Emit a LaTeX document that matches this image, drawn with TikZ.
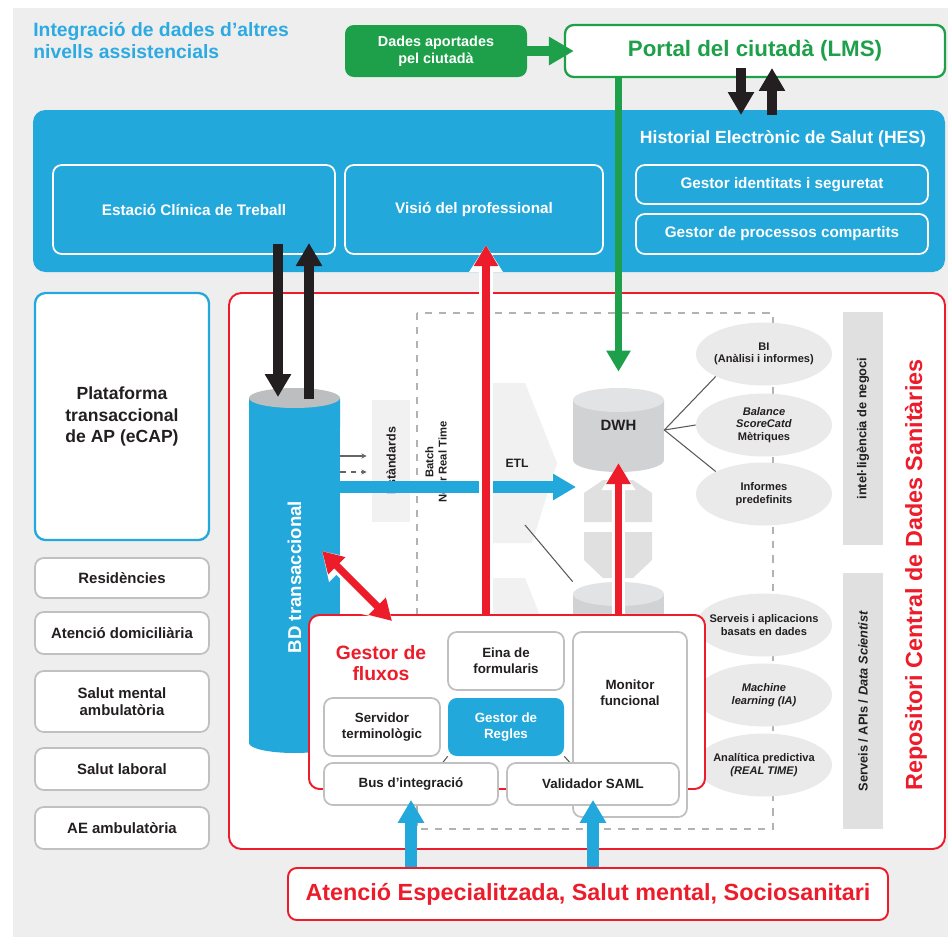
\documentclass[tikz,border=0pt]{standalone}
\usepackage{fontspec}
\setmainfont{Liberation Sans}
\usetikzlibrary{arrows.meta,shapes.geometric,fit}
\newcommand{\titlefont}{\fontsize{11}{12.5}\selectfont\bfseries}
\newcommand{\citfont}{\fontsize{8.2}{9.6}\selectfont\bfseries}
\newcommand{\portalfont}{\fontsize{12.7}{14}\selectfont\bfseries}
\newcommand{\hesfont}{\fontsize{10}{12}\selectfont\bfseries}
\newcommand{\hesboxfont}{\fontsize{8.7}{10}\selectfont\bfseries}
\newcommand{\ecapfont}{\fontsize{10}{12}\selectfont\bfseries}
\newcommand{\leftfont}{\fontsize{8.5}{10}\selectfont\bfseries}
\newcommand{\boxfont}{\fontsize{7.6}{9}\selectfont\bfseries}
\newcommand{\ellfont}{\fontsize{6.3}{7.2}\selectfont\bfseries}
\newcommand{\barfont}{\fontsize{7.3}{8.5}\selectfont\bfseries}
\newcommand{\stdfont}{\fontsize{7.1}{8}\selectfont\bfseries}
\newcommand{\batchfont}{\fontsize{6.4}{7.6}\selectfont\bfseries}
\newcommand{\etlfont}{\fontsize{6.9}{8}\selectfont\bfseries}
\newcommand{\dwhfont}{\fontsize{8.5}{10}\selectfont\bfseries}
\newcommand{\bdfont}{\fontsize{10.6}{12}\selectfont\bfseries}
\newcommand{\gestorfont}{\fontsize{11}{11.5}\selectfont\bfseries}
\newcommand{\bigredfont}{\fontsize{13.3}{15}\selectfont\bfseries}
\begin{document}
\begin{tikzpicture}[x=0.02cm, y=-0.02cm,
  every node/.style={font=\boxfont, text=ink, inner sep=0pt, align=center},
  wh/.style 2 args={minimum width=#1*0.02cm, minimum height=#2*0.02cm},
  hesbox/.style={draw=white, line width=1pt, rounded corners=5pt, text=white, font=\hesboxfont},
  graybox/.style={draw=boxgray, line width=1pt, fill=white, rounded corners=5pt},
  ell/.style={ellipse, fill=ellgray, inner sep=-4pt, wh={136}{63}, font=\ellfont},
  linkgray/.style={draw=black!65, line width=0.6pt},
  bluearrow/.style={draw=hesblue, line width=6.4pt, -{Triangle[length=0.46cm, width=0.5cm]}},
  blackarrow/.style={draw=ink, line width=6.2pt, -{Triangle[length=0.46cm, width=0.5cm]}},
  greenarrow/.style={draw=citgreen, line width=4.2pt, -{Triangle[length=0.42cm, width=0.46cm]}},
  redarrow/.style={draw=rcdsred, line width=4.2pt, -{Triangle[length=0.42cm, width=0.46cm]},
    preaction={draw=white, line width=7.6pt, -{Triangle[length=0.54cm, width=0.64cm]}}},
  redboth/.style={draw=rcdsred, line width=4.2pt,
    {Triangle[length=0.42cm, width=0.46cm]}-{Triangle[length=0.42cm, width=0.46cm]},
    preaction={draw=white, line width=7.6pt,
      {Triangle[length=0.54cm, width=0.64cm]}-{Triangle[length=0.54cm, width=0.64cm]}}}
]
\definecolor{bggray}{RGB}{238,238,238}
\definecolor{hesblue}{RGB}{35,168,219}
\definecolor{titleblue}{RGB}{44,170,225}
\definecolor{citgreen}{RGB}{30,160,74}
\definecolor{rcdsred}{RGB}{236,28,42}
\definecolor{ink}{RGB}{35,31,32}
\definecolor{boxgray}{RGB}{192,192,192}
\definecolor{ellgray}{RGB}{234,234,234}
\definecolor{bargray}{RGB}{224,224,224}
\definecolor{shadegray}{RGB}{241,241,241}
\definecolor{cylgray}{RGB}{209,210,212}
\definecolor{cyltop}{RGB}{226,227,228}
\definecolor{bdtop}{RGB}{188,190,192}
% Frame
\useasboundingbox (0,0) rectangle (948,937);
\fill[bggray] (13,8) rectangle (948,937);

% Header: citizen side
\node[anchor=north west, align=left, text=titleblue, font=\titlefont] (title) at (33,22) {Integració de dades d’altres\\nivells assistencials};
\node[fill=citgreen, rounded corners=5pt, wh={182}{52}, text=white, font=\citfont] (dades) at (436,51) {Dades aportades\\pel ciutadà};
\node[draw=citgreen, line width=1.3pt, fill=white, rounded corners=5pt, wh={380}{52}, text=citgreen, font=\portalfont] (portal) at (755,51) {Portal del ciutadà (LMS)};

% HES block
\node[fill=hesblue, rounded corners=7pt, wh={912}{162}] (hes) at (489,191) {};
\node[text=white, font=\hesfont] (hestitle) at (783,139) {Historial Electrònic de Salut (HES)};
\node[hesbox, wh={292}{39}] (gid) at (782,184.5) {Gestor identitats i seguretat};
\node[hesbox, wh={292}{40}] (gproc) at (782,234) {Gestor de processos compartits};
\node[hesbox, wh={282}{89}] (ecw) at (194,209.5) {Estació Clínica de Treball};
\node[hesbox, wh={258}{89}] (visio) at (474,209.5) {Visió del professional};

% Left column: other care levels
\node[draw=hesblue, line width=1.3pt, fill=white, rounded corners=6pt, wh={174}{247}, font=\ecapfont] (ecap) at (122,416.5) {Plataforma\\transaccional\\de AP (eCAP)};
\foreach \name/\y/\h/\txt in {res/578/40/Residències, dom/633/42/Atenció domiciliària,
    smen/701.5/61/{Salut mental\\ambulatòria}, lab/769/42/Salut laboral, aeamb/828/42/AE ambulatòria}
  \node[graybox, wh={174}{\h}, font=\leftfont] (\name) at (122,\y) {\txt};

% Repositori Central de Dades Sanitaries
\node[draw=rcdsred, line width=1.1pt, fill=white, rounded corners=7pt, wh={716}{556}] (rcds) at (587,571) {};
\draw[black!30, line width=0.9pt, dash pattern=on 4pt off 4pt] (417,313) rectangle (773,829);
\node[fill=bargray, rotate=90, wh={233}{40}, font=\barfont] (bibar) at (863,428.5) {intel·ligència de negoci};
\node[fill=bargray, rotate=90, wh={256}{40}, font=\barfont] (apibar) at (863,701) {Serveis / APIs / \textit{Data Scientist}};
\node[rotate=90, text=rcdsred, font=\bigredfont] (rcdstitle) at (916,575) {Repositori Central de Dades Sanitàries};

% ETL and staging shapes
\fill[shadegray] (492,383) -- (525,383) -- (557,463) -- (532,543) -- (492,543) -- cycle;
\fill[shadegray] (492,578) -- (525,578) -- (557,658) -- (532,700) -- (492,700) -- cycle;
\fill[bargray] (584,493) -- (603,480) -- (633,480) -- (652,493) -- (652,522) -- (584,522) -- cycle;
\fill[bargray] (584,532) -- (652,532) -- (652,560) -- (633,578) -- (603,578) -- (584,560) -- cycle;

% DWH and staging cylinders
\fill[cylgray] (573,400) -- (573,460) arc[start angle=180, end angle=360, x radius=0.91cm, y radius=0.24cm] -- (664,400) -- cycle;
\fill[cyltop] (618.5,400) ellipse[x radius=0.91cm, y radius=0.24cm];
\node[fit={(573,388) (664,472)}, font=\dwhfont] (dwh) {DWH};
\fill[cylgray] (573,594) rectangle (664,640);
\fill[cyltop] (618.5,594) ellipse[x radius=0.91cm, y radius=0.24cm];
\node[fit={(573,582) (664,640)}] (stage) {};
\coordinate (etlfoot) at (525,525);
\draw[linkgray] (etlfoot) -- (stage.north west);

% Analytics
\foreach \name/\y/\txt in {bi/354/{BI\\(Anàlisi i informes)},
    bsc/425/{\textit{Balance}\\\textit{ScoreCatd}\\Mètriques},
    infp/494/{Informes\\predefinits},
    sapp/625/{Serveis i aplicacions\\basats en dades},
    mlia/695/{\textit{Machine}\\\textit{learning (IA)}},
    apred/765/{Analítica predictiva\\\textit{(REAL TIME)}}}
  \node[ell] (\name) at (764,\y) {\txt};
\draw[linkgray] (bi.south west) -- (dwh.east) -- (infp.north west);
\draw[linkgray] (dwh.east) -- (bsc.west);

% Standards, batch, ETL
\node[fill=shadegray, rotate=90, wh={122}{38}, font=\stdfont] (estd) at (391,461) {Estàndards};
\node[rotate=90, font=\batchfont] (batch) at (436,462) {Batch\\Near Real Time};
\node[font=\etlfont] (etl) at (517,463) {ETL};

% BD transaccional
\fill[hesblue] (249,398) -- (249,743) arc[start angle=180, end angle=360, x radius=0.91cm, y radius=0.2cm] -- (340,398) -- cycle;
\fill[bdtop] (294.5,398) ellipse[x radius=0.91cm, y radius=0.2cm];
\node[fit={(249,388) (340,753)}] (bd) {};
\node[rotate=90, text=white, font=\bdfont] (bdlabel) at (294.5,577) {BD transaccional};
\draw[black!60, line width=0.6pt, -{Stealth[length=3pt, width=3pt]}, shorten >=0.1cm] (bd.east |- 0,456) -- (estd.north |- 0,456);
\draw[black!60, line width=0.6pt, dashed, -{Stealth[length=3pt, width=3pt]}, shorten >=0.1cm] (bd.east |- 0,472) -- (estd.north |- 0,472);
\coordinate (etlend) at (576,487);
\draw[bluearrow] (bd.east |- etlend) -- (etlend);

% Gestor de fluxos
\node[draw=rcdsred, line width=1.1pt, fill=white, rounded corners=6pt, wh={396}{174}] (gestor) at (507,702) {};
\node[text=rcdsred, font=\gestorfont] (gestortitle) at (381,663) {Gestor de\\fluxos};
\node[graybox, wh={116}{58}] (eina) at (506,661) {Eina de\\formularis};
\node[graybox, wh={114}{185}] (monitor) at (630,724.5) {};
\node (monitortxt) at (630,693) {Monitor\\funcional};
\node[graybox, wh={116}{58}] (servt) at (382,727) {Servidor\\terminològic};
\node[fill=hesblue, rounded corners=5pt, wh={116}{58}, text=white] (regles) at (506,727) {Gestor de\\Regles};
\draw[linkgray] (regles.south west) -- (servt.east |- 0,765);
\draw[linkgray] (regles.south east) -- (monitor.west |- 0,765);
\node[graybox, wh={174}{42}] (bus) at (411,784) {Bus d’integració};
\node[graybox, wh={172}{42}] (valid) at (593,784) {Validador SAML};

% Specialised care
\node[draw=rcdsred, line width=1.1pt, fill=white, rounded corners=5pt, wh={600}{52}, text=rcdsred, font=\bigredfont] (aes) at (588,894) {Atenció Especialitzada, Salut mental, Sociosanitari};
\draw[bluearrow, shorten >=-0.12cm] (aes.north -| bus) -- (bus.south);
\draw[bluearrow, shorten >=-0.12cm] (aes.north -| valid) -- (valid.south);

% Red flows
\coordinate (vtip) at (486,245);
\coordinate (dwhtip) at (618.5,463);
\coordinate (bdhit) at (322,551);
\coordinate (gfhit) at (392,621);
\draw[redarrow] (gestor.north -| vtip) -- (vtip);
\draw[redarrow] (gestor.north -| dwhtip) -- (dwhtip);
\draw[redboth] (bdhit) -- (gfhit);

% Citizen flows
\draw[greenarrow, line width=5.6pt, -{Triangle[length=0.5cm, width=0.54cm]}, shorten >=-0.2cm] (dades.east) -- (portal.west);
\draw[greenarrow] (portal.south -| dwh) -- ([yshift=0.32cm]dwh.north);
\coordinate (lmsdown) at (741,115);
\coordinate (lmsup) at (772,68);
\draw[blackarrow, shorten <=-0.2cm] (portal.south -| lmsdown) -- (lmsdown);
\draw[blackarrow, shorten <=-0.1cm] (hes.north -| lmsup) -- (lmsup);

% ECW <-> BD
\coordinate (bddown) at (278,397);
\coordinate (bdup) at (309,243);
\draw[blackarrow, shorten <=-0.22cm] (ecw.south -| bddown) -- (bddown);
\draw[blackarrow, shorten <=-0.22cm] (bd.north -| bdup) -- (bdup);
\end{tikzpicture}
\end{document}
